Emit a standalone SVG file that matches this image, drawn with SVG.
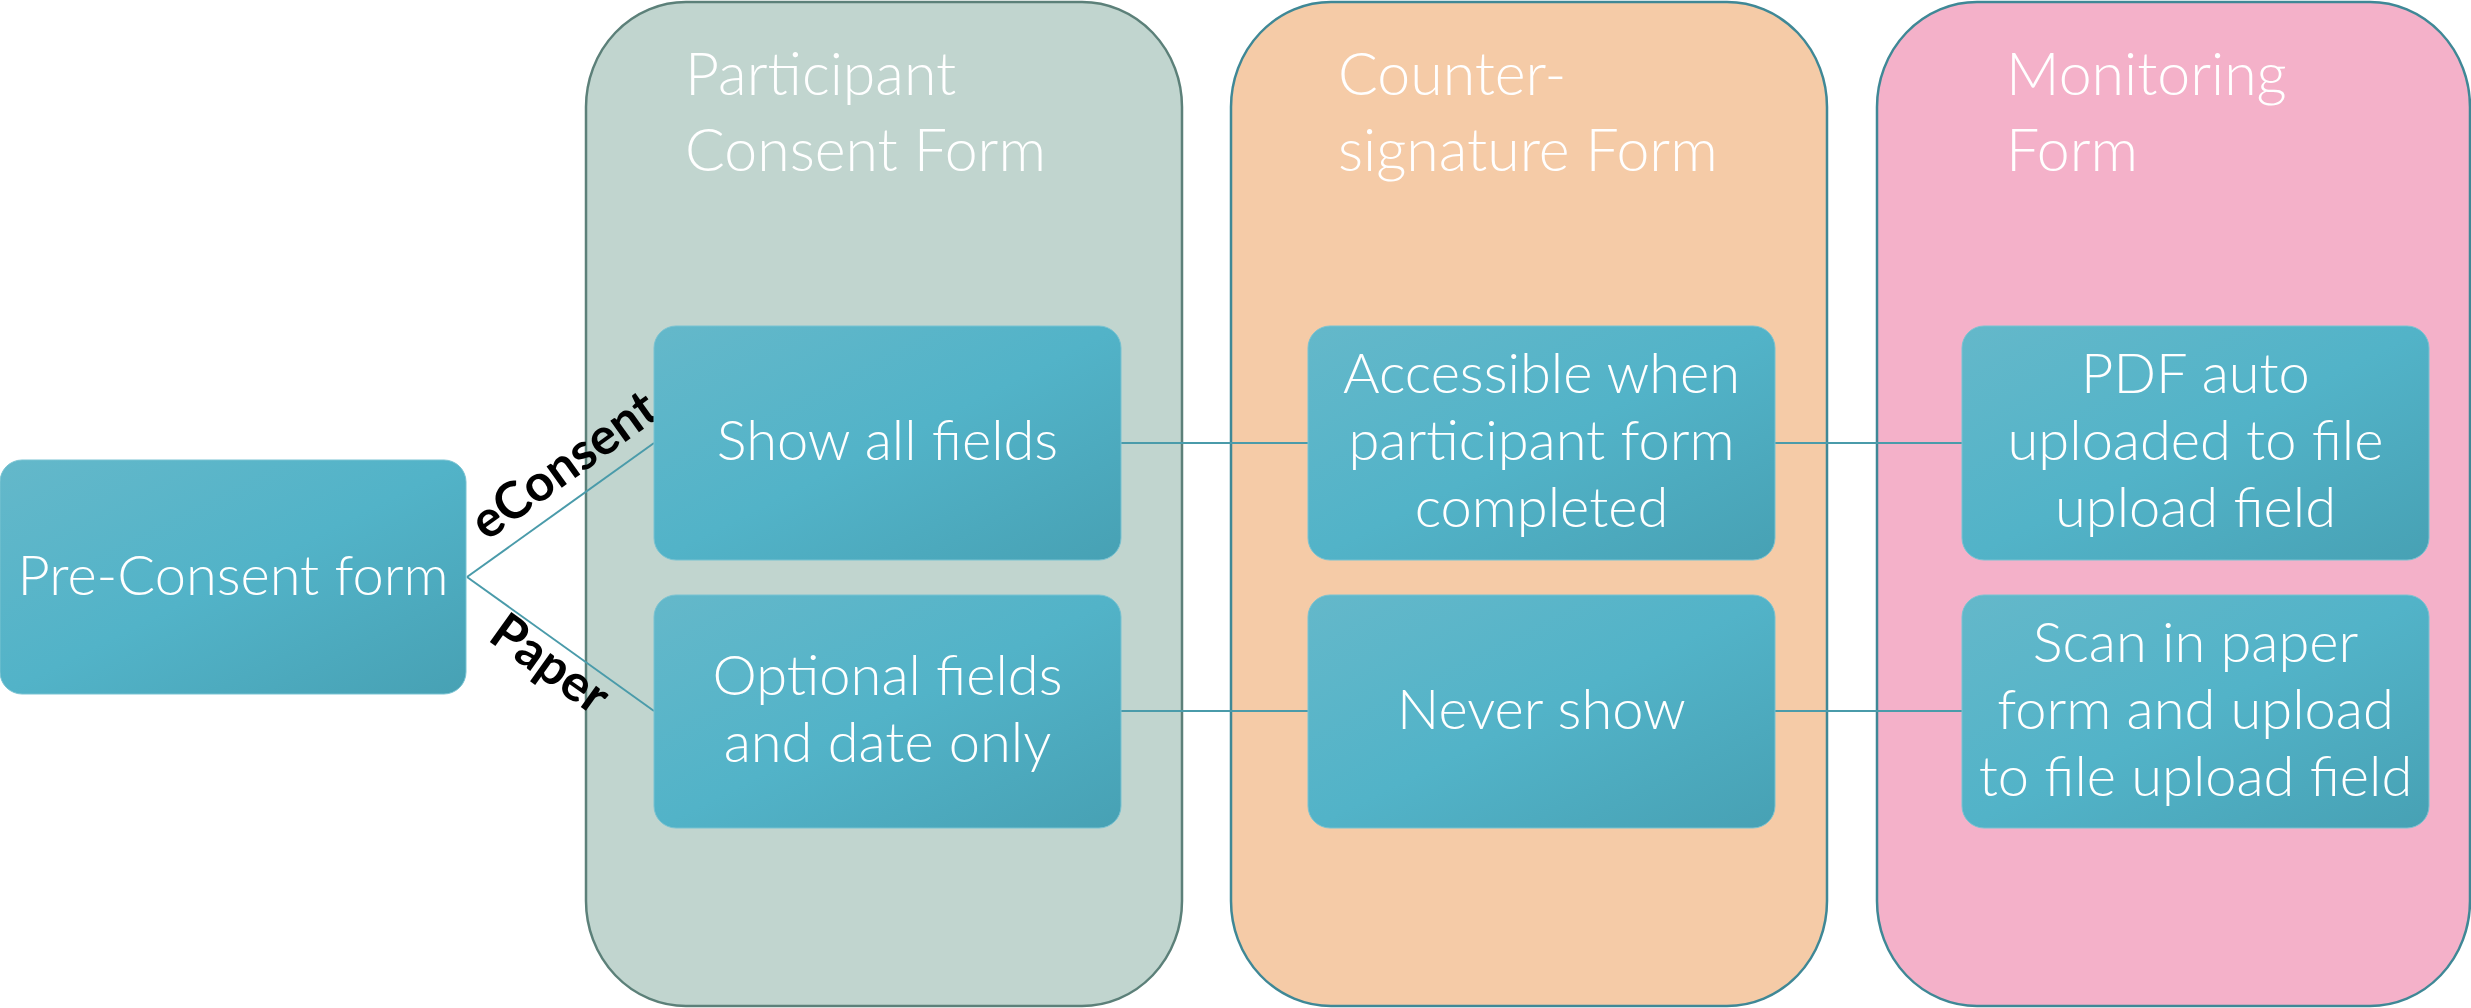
<svg xmlns="http://www.w3.org/2000/svg" width="2471" height="1008" viewBox="0 0 2471 1008">
<defs>
<linearGradient id="boxGrad" x1="0" y1="0" x2="1" y2="1">
<stop offset="0" stop-color="#64B8CA"/>
<stop offset="0.5" stop-color="#52B3C8"/>
<stop offset="1" stop-color="#47A1B4"/>
</linearGradient>
<style>
.col { stroke-width: 2.5; }
.box { fill: url(#boxGrad); stroke: #79C3D2; stroke-width: 1; }
.t { font-family: "Lato", "Liberation Sans", sans-serif; font-weight: 300; fill: #FFFFFF; font-size: 56px; text-anchor: middle; }
.title { font-family: "Lato", "Liberation Sans", sans-serif; font-weight: 300; fill: #FFFFFF; font-size: 59px; }
.lbl { font-family: "Lato", "Liberation Sans", sans-serif; font-weight: 700; fill: #000000; font-size: 51px; text-anchor: middle; }
.conn { stroke: #4A9BAA; stroke-width: 2; fill: none; }
</style>
</defs>
<rect width="2471" height="1008" fill="#FFFFFF"/>

<g id="col-participant">
<rect class="col" x="586" y="2" width="596" height="1004" rx="100" ry="105" fill="#C1D5CF" stroke="#5C8079"/>
<text class="title" x="685" y="95">Participant</text>
<text class="title" x="685" y="171">Consent Form</text>
</g>
<g id="col-countersignature">
<rect class="col" x="1231" y="2" width="596" height="1004" rx="100" ry="105" fill="#F5CBA7" stroke="#3F8896"/>
<text class="title" x="1338" y="95">Counter-</text>
<text class="title" x="1338" y="171">signature Form</text>
</g>
<g id="col-monitoring">
<rect class="col" x="1877" y="2" width="593" height="1004" rx="100" ry="105" fill="#F4B1C9" stroke="#3F8896"/>
<text class="title" x="2006" y="95">Monitoring</text>
<text class="title" x="2006" y="171">Form</text>
</g>

<g id="connectors">
<line class="conn" x1="467" y1="577" x2="654" y2="443"/>
<line class="conn" x1="467" y1="577" x2="654" y2="711"/>
<line class="conn" x1="1121" y1="443" x2="1308" y2="443"/>
<line class="conn" x1="1775" y1="443" x2="1962" y2="443"/>
<line class="conn" x1="1121" y1="711" x2="1308" y2="711"/>
<line class="conn" x1="1775" y1="711" x2="1962" y2="711"/>
<text class="lbl" transform="translate(574,479) rotate(-35.62)">eConsent</text>
<text class="lbl" transform="translate(540,678) rotate(35.62)">Paper</text>
</g>

<g id="pre-consent">
<rect class="box" x="0" y="460" width="466" height="234" rx="22"/>
<text class="t" x="233" y="595">Pre-Consent form</text>
</g>
<g id="show-all">
<rect class="box" x="654" y="326" width="467" height="234" rx="22"/>
<text class="t" x="887.5" y="460">Show all fields</text>
</g>
<g id="optional-fields">
<rect class="box" x="654" y="595" width="467" height="233" rx="22"/>
<text class="t" x="887.5" y="695">Optional fields</text>
<text class="t" x="887.5" y="762">and date only</text>
</g>
<g id="accessible">
<rect class="box" x="1308" y="326" width="467" height="234" rx="22"/>
<text class="t" x="1541.5" y="393">Accessible when</text>
<text class="t" x="1541.5" y="460">participant form</text>
<text class="t" x="1541.5" y="527">completed</text>
</g>
<g id="never-show">
<rect class="box" x="1308" y="595" width="467" height="233" rx="22"/>
<text class="t" x="1541.5" y="729">Never show</text>
</g>
<g id="pdf-auto">
<rect class="box" x="1962" y="326" width="467" height="234" rx="22"/>
<text class="t" x="2195.5" y="393">PDF auto</text>
<text class="t" x="2195.5" y="460">uploaded to file</text>
<text class="t" x="2195.5" y="527">upload field</text>
</g>
<g id="scan-paper">
<rect class="box" x="1962" y="595" width="467" height="233" rx="22"/>
<text class="t" x="2195.5" y="662">Scan in paper</text>
<text class="t" x="2195.5" y="729">form and upload</text>
<text class="t" x="2195.5" y="796">to file upload field</text>
</g>
</svg>
